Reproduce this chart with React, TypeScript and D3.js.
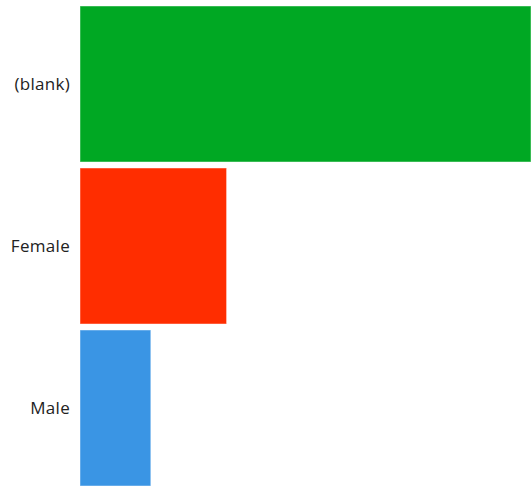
import React from "react";
import * as d3 from "d3";

const categories = ["(blank)", "Female", "Male"];
const values = [1000, 325, 157];
const colors = ["#00a823", "#ff2d00", "#3a95e4"];

const W = 531;
const H = 488;

export default function App() {
  const y = d3.scaleBand<string>().domain(categories).range([6, 486]).paddingInner(0.037).paddingOuter(0);
  const x = d3.scaleLinear().domain([0, 1000]).range([80, 531]);
  return (
    <svg width={W} height={H} style={{ position: "absolute", left: 0, top: 0 }}>
      {categories.map((c, i) => (
        <g key={c}>
          <rect
            x={x(0)}
            y={y(c)!}
            width={x(values[i]) - x(0)}
            height={y.bandwidth()}
            fill={colors[i]}
            stroke="#ffffff"
            strokeOpacity={0.45}
            strokeWidth={1}
          />
          <text
            x={70}
            y={y(c)! + y.bandwidth() / 2 + 6}
            textAnchor="end"
            fontFamily="'Open Sans', sans-serif"
            fontSize={17}
            letterSpacing={0.3}
            fill="#222"
          >
            {c}
          </text>
        </g>
      ))}
    </svg>
  );
}
